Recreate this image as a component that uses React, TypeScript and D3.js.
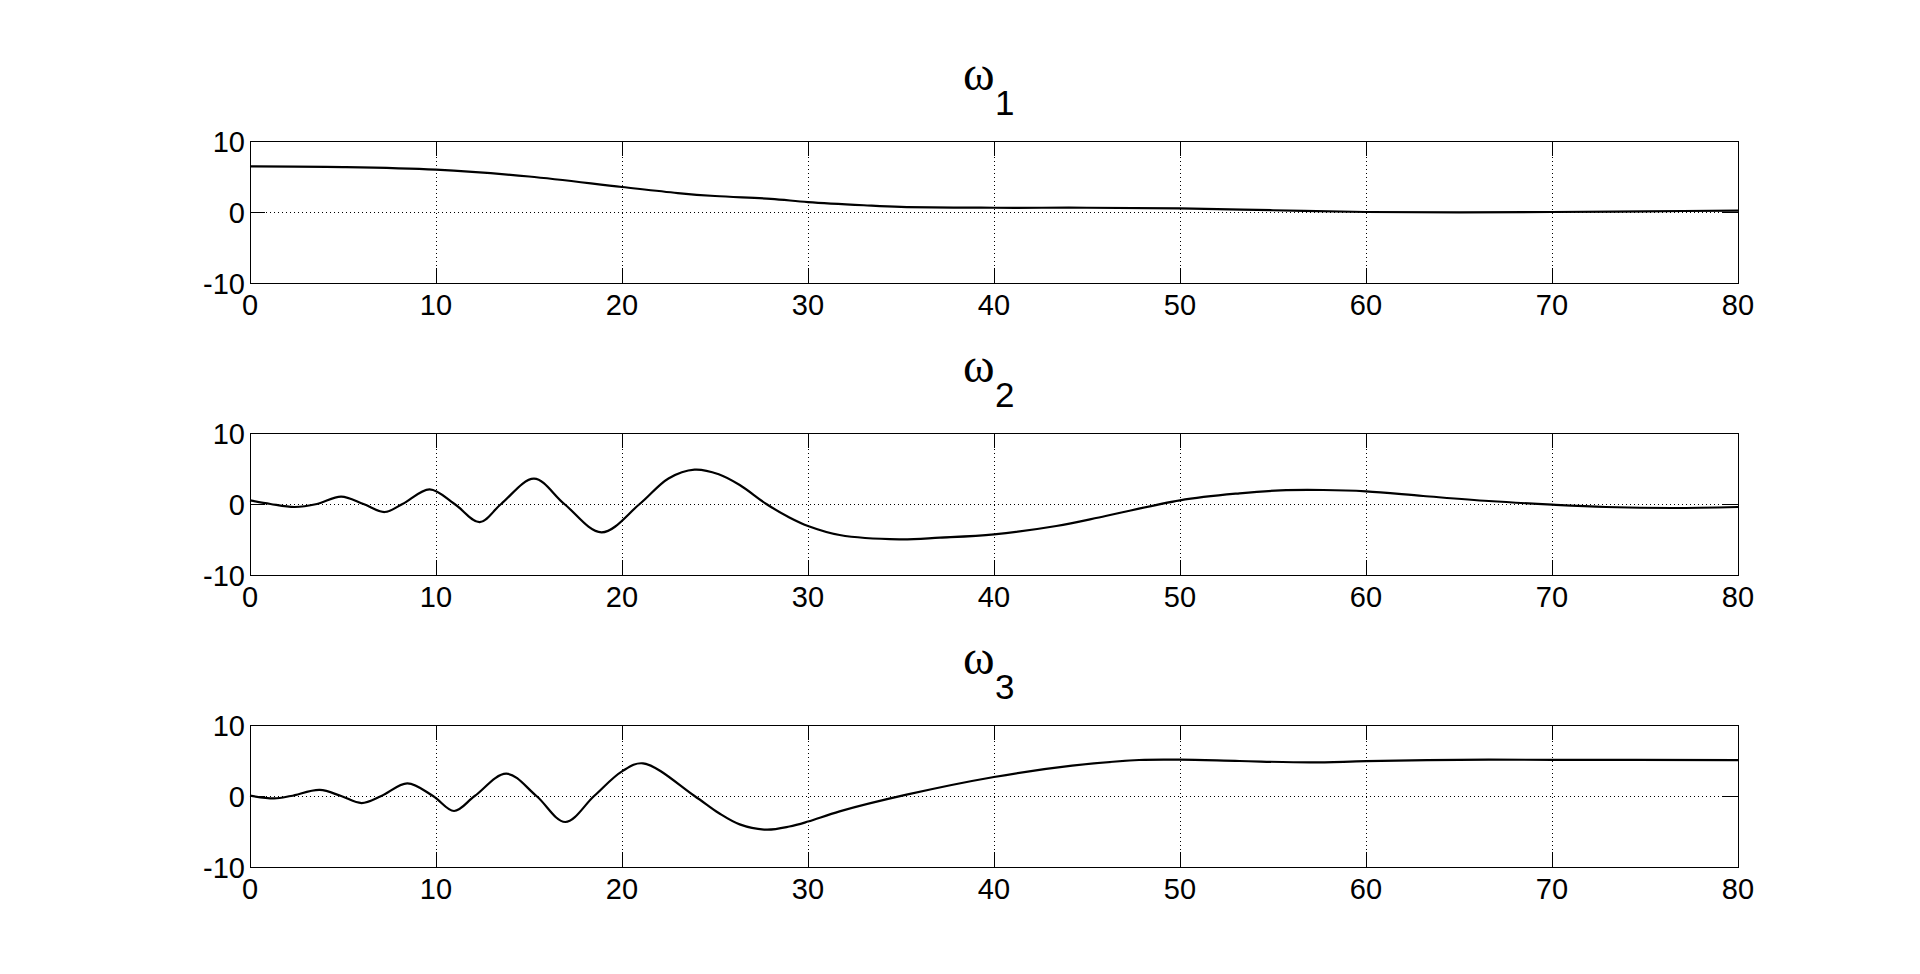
import React from "react";
import * as d3 from "d3";

// ---- data ----
const xTicks = [0, 10, 20, 30, 40, 50, 60, 70, 80];
const yTicks = [-10, 0, 10];
const titles = ["1", "2", "3"];

const omega1: [number, number][] = [
  [0, 6.42], [5, 6.33], [10, 5.96], [15, 5.0], [20, 3.52], [23, 2.67], [25, 2.25],
  [28, 1.85], [30, 1.4], [33, 0.95], [35, 0.72], [40, 0.6], [45, 0.6], [50, 0.5],
  [55, 0.25], [60, 0.0], [65, -0.05], [70, 0.0], [75, 0.1], [80, 0.2],
];

const omega2: [number, number][] = [
  [0, 0.5], [1.1, 0], [2.4, -0.42], [3.6, 0], [4.9, 1.03], [6.1, 0], [7.24, -1.13],
  [8.2, 0], [9.66, 2.07], [11.0, 0], [12.35, -2.54], [13.5, 0], [15.27, 3.57],
  [16.9, 0], [18.9, -3.99], [20.95, 0], [22.5, 3.6], [23.9, 4.84], [25.2, 4.2],
  [26.33, 2.68], [27.76, 0], [29.0, -1.9], [30, -3.1], [31.7, -4.37], [34.9, -4.98],
  [37.1, -4.74], [40, -4.27], [43.35, -3.1], [46, -1.69], [50, 0.52], [53.2, 1.5],
  [55.4, 1.92], [57.7, 1.97], [60, 1.78], [63.07, 1.13], [66.6, 0.42], [70, -0.09],
  [72.9, -0.42], [76.5, -0.56], [80, -0.42],
];

const omega3: [number, number][] = [
  [0, 0.05], [1.3, -0.33], [2.2, 0], [3.75, 0.85], [4.9, 0], [6.0, -0.99],
  [7.06, 0], [8.46, 1.78], [9.84, 0], [10.97, -2.11], [12.08, 0], [13.78, 3.15],
  [15.4, 0], [16.95, -3.66], [18.5, 0], [20, 3.47], [21.13, 4.6],
  [23.9, 0], [25.2, -2.4], [26.33, -4.0], [27.76, -4.74], [29.0, -4.3], [30, -3.6],
  [31.7, -2.16], [35.3, 0.19], [40, 2.68], [44.2, 4.27], [47.8, 5.07], [50, 5.12],
  [53.2, 4.93], [57, 4.73], [60, 4.9], [65, 5.1], [70, 5.1], [80, 5.05],
];

const series = [omega1, omega2, omega3];

// ---- layout ----
const W = 1920;
const H = 974;
const left = 250;
const right = 1738;
const tops = [141, 433, 725];
const plotH = 142;
const tickLen = 15;
const font = "'Liberation Sans', Arial, Helvetica, sans-serif";

function Panel({ data, top, sub }: { data: [number, number][]; top: number; sub: string }) {
  const x = d3.scaleLinear().domain([0, 80]).range([left, right]);
  const y = d3.scaleLinear().domain([-10, 10]).range([top + plotH, top]);
  const line = d3
    .line<[number, number]>()
    .x((d) => x(d[0]))
    .y((d) => y(d[1]))
    .curve(d3.curveCatmullRom.alpha(0.5));
  const mid = (left + right) / 2;
  return (
    <g>
      {/* grid */}
      {xTicks
        .filter((t) => t !== 0 && t !== 80)
        .map((t) => (
          <line key={"gx" + t} x1={x(t) + 0.5} x2={x(t) + 0.5} y1={top} y2={top + plotH}
            stroke="#000" strokeWidth={1} strokeDasharray="1 3" />
        ))}
      {yTicks
        .filter((t) => t !== -10 && t !== 10)
        .map((t) => (
          <line key={"gy" + t} x1={left} x2={right} y1={y(t) + 0.5} y2={y(t) + 0.5}
            stroke="#000" strokeWidth={1} strokeDasharray="1 3" />
        ))}
      {/* ticks */}
      {xTicks.map((t) => (
        <g key={"tx" + t}>
          <line x1={x(t) + 0.5} x2={x(t) + 0.5} y1={top} y2={top + tickLen} stroke="#000" />
          <line x1={x(t) + 0.5} x2={x(t) + 0.5} y1={top + plotH} y2={top + plotH - tickLen} stroke="#000" />
          <text x={x(t)} y={top + plotH + 32} textAnchor="middle" fontFamily={font} fontSize={29}>
            {t}
          </text>
        </g>
      ))}
      {yTicks.map((t) => (
        <g key={"ty" + t}>
          <line x1={left} x2={left + tickLen} y1={y(t) + 0.5} y2={y(t) + 0.5} stroke="#000" />
          <line x1={right} x2={right - tickLen} y1={y(t) + 0.5} y2={y(t) + 0.5} stroke="#000" />
          <text x={245} y={y(t) + 10.5} textAnchor="end" fontFamily={font} fontSize={29}>
            {t}
          </text>
        </g>
      ))}
      {/* curve */}
      <path d={line(data) || ""} fill="none" stroke="#000" strokeWidth={2.2} strokeLinejoin="round" />
      {/* frame */}
      <rect x={left + 0.5} y={top + 0.5} width={right - left} height={plotH} fill="none" stroke="#000" strokeWidth={1} />
      {/* title */}
      <text x={mid - 31} y={top - 51} fontFamily="'Liberation Serif', 'Times New Roman', serif" fontSize={48}>
        ω
      </text>
      <text x={mid + 1} y={top - 26} fontFamily={font} fontSize={35}>
        {sub}
      </text>
    </g>
  );
}

export default function App() {
  return (
    <svg width={W} height={H} style={{ position: "absolute", left: 0, top: 0, display: "block", background: "#fff" }}>
      <rect x={0} y={0} width={W} height={H} fill="#fff" />
      {series.map((s, i) => (
        <Panel key={i} data={s} top={tops[i]} sub={titles[i]} />
      ))}
    </svg>
  );
}
